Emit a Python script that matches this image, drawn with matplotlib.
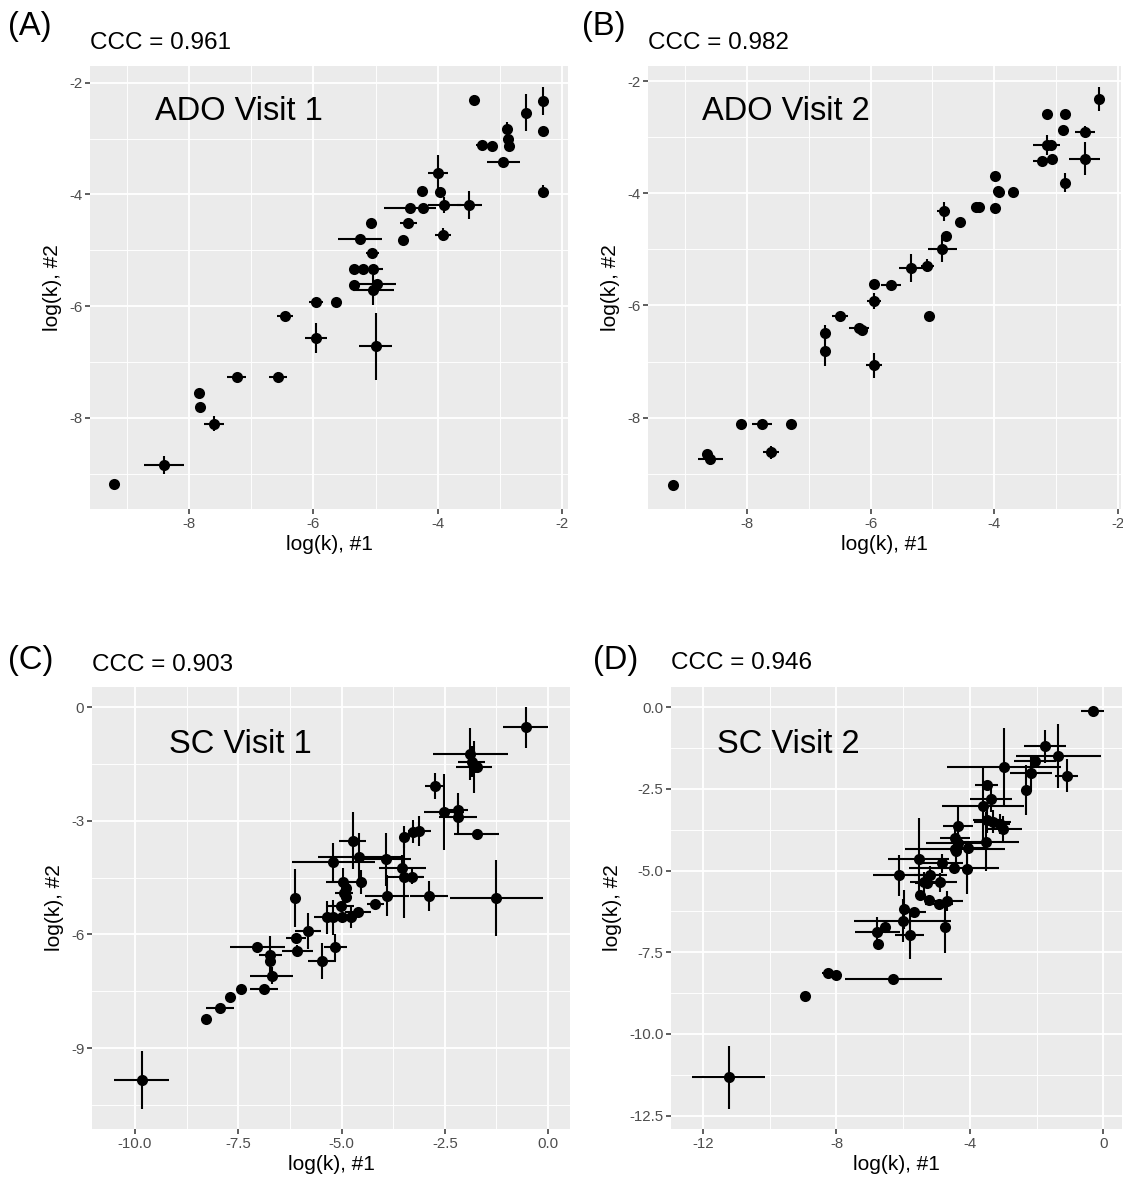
import matplotlib
matplotlib.use("Agg")
import matplotlib.pyplot as plt
from matplotlib.ticker import FixedLocator
import numpy as np

plt.rcParams['font.family'] = ['Liberation Sans', 'DejaVu Sans']

# ---- data: (x, y, xerr, yerr) ----
# ADO Visit 1
a_x = [-9.21, -8.41, -7.84, -7.82, -7.60, -7.24, -6.57, -6.46, -5.96, -5.63, -5.96, -5.00,
       -5.35, -5.35, -5.20, -5.04, -4.97, -5.04, -5.05, -5.25, -5.07, -4.55, -4.47, -4.44,
       -4.24, -4.25, -3.96, -3.99, -3.89, -3.49, -3.92, -3.42, -3.29, -3.13, -2.94, -2.89,
       -2.87, -2.85, -2.58, -2.31, -2.31, -2.31]
a_y = [-9.19, -8.85, -7.55, -7.80, -8.10, -7.27, -7.26, -6.17, -5.93, -5.92, -6.57, -6.72,
       -5.62, -5.34, -5.34, -5.34, -5.60, -5.71, -5.05, -4.79, -4.51, -4.82, -4.51, -4.25,
       -4.25, -3.94, -3.96, -3.62, -4.19, -4.19, -4.72, -2.31, -3.11, -3.13, -3.41, -2.82,
       -3.00, -3.14, -2.54, -2.32, -2.86, -3.95]
a_xerr = [0, 0.32, 0, 0, 0.16, 0.15, 0.14, 0.13, 0.11, 0, 0.17, 0.27,
          0, 0, 0, 0.16, 0.30, 0.33, 0.10, 0.35, 0, 0, 0.13, 0.42,
          0, 0, 0, 0.16, 0.27, 0.20, 0.13, 0, 0.10, 0, 0.26, 0,
          0, 0, 0, 0, 0, 0]
a_yerr = [0, 0.16, 0, 0, 0.14, 0, 0.09, 0, 0, 0, 0.27, 0.60,
          0, 0, 0, 0, 0, 0.27, 0, 0, 0, 0, 0, 0,
          0, 0, 0, 0.33, 0.15, 0.25, 0.12, 0.09, 0, 0, 0, 0.12,
          0, 0, 0.33, 0.25, 0, 0.12]

# ADO Visit 2
b_x = [-9.19, -8.64, -8.59, -8.09, -7.76, -7.29, -7.61, -6.73, -6.73, -6.49, -6.19, -6.14,
       -5.94, -5.94, -5.94, -5.67, -5.35, -5.08, -5.06, -4.84, -4.78, -4.82, -4.56, -4.29,
       -4.24, -3.98, -3.98, -3.94, -3.93, -3.70, -3.23, -3.15, -3.09, -3.06, -3.15, -2.86,
       -2.88, -2.86, -2.53, -2.54, -2.31]
b_y = [-9.20, -8.65, -8.74, -8.11, -8.11, -8.11, -8.62, -6.49, -6.81, -6.18, -6.41, -6.43,
       -7.07, -5.92, -5.61, -5.64, -5.34, -5.29, -6.18, -4.99, -4.77, -4.32, -4.52, -4.24,
       -4.25, -4.27, -3.69, -3.96, -3.98, -3.98, -3.42, -3.14, -3.14, -3.39, -2.59, -2.59,
       -2.87, -3.81, -2.90, -3.38, -2.32]
b_xerr = [0, 0, 0.20, 0, 0.16, 0, 0.13, 0, 0, 0.13, 0.16, 0,
          0.13, 0.11, 0, 0.16, 0.19, 0.11, 0, 0.23, 0, 0.11, 0, 0,
          0, 0, 0, 0, 0, 0, 0.15, 0.22, 0, 0, 0, 0,
          0, 0, 0.16, 0.25, 0]
b_yerr = [0, 0, 0.11, 0, 0, 0, 0.12, 0.15, 0.27, 0, 0, 0,
          0.22, 0.15, 0, 0, 0.25, 0.12, 0, 0.24, 0, 0.17, 0, 0,
          0, 0, 0, 0, 0, 0, 0, 0.18, 0, 0, 0, 0,
          0, 0.17, 0.10, 0.30, 0.22]

# SC Visit 1
c_x = [-9.84, -8.28, -7.94, -7.69, -7.44, -6.88, -6.69, -6.72, -6.72, -7.04, -6.13, -6.10,
       -6.07, -5.81, -5.47, -5.36, -5.20, -5.15, -5.20, -5.02, -4.98, -4.96, -4.90, -4.94,
       -4.88, -4.78, -4.73, -4.57, -4.53, -4.60, -4.18, -3.93, -3.90, -3.53, -3.49, -3.49,
       -3.29, -3.27, -3.12, -2.88, -2.73, -2.52, -2.19, -2.19, -1.73, -1.88, -1.85, -1.80,
       -1.73, -1.25, -0.54]
c_y = [-9.84, -8.24, -7.95, -7.66, -7.45, -7.45, -7.09, -6.70, -6.54, -6.32, -5.04, -6.08,
       -6.43, -5.90, -6.70, -5.55, -5.55, -6.34, -4.09, -5.25, -5.55, -4.60, -4.78, -4.91,
       -5.02, -5.55, -3.52, -3.94, -4.61, -5.41, -5.19, -4.01, -4.97, -4.25, -4.47, -3.42,
       -4.47, -3.28, -3.27, -4.98, -2.08, -2.76, -2.71, -2.90, -3.35, -1.23, -1.43, -1.57,
       -1.58, -5.04, -0.53]
c_xerr = [0.67, 0.10, 0.34, 0, 0, 0.34, 0.52, 0, 0.27, 0.67, 0, 0.24,
          0.38, 0.32, 0.34, 0.30, 0, 0.28, 1.00, 0.32, 0, 0.42, 0, 0.22,
          0, 0, 0.32, 1.00, 0, 0.32, 0.20, 0.60, 0.53, 0.57, 0.45, 0,
          0.28, 0, 0.28, 0.46, 0.24, 0.48, 0.24, 0.46, 0.54, 0.90, 0.32, 0.43,
          0, 1.13, 0.54]
c_yerr = [0.77, 0.10, 0, 0, 0, 0, 0.22, 0, 0.50, 0, 0.77, 0,
          0.15, 0.48, 0.47, 0.44, 0.46, 0.35, 0.50, 0, 0, 0.35, 0, 0.2,
          0, 0.29, 0.76, 0.62, 0.31, 0, 0.12, 0.70, 0.55, 0.35, 1.10, 0.30,
          0.20, 0.31, 0.40, 0.40, 0.35, 1.00, 0.44, 0.44, 0.15, 0.68, 0.40, 0.68,
          0, 1.00, 0.55]

# SC Visit 2
d_x = [-11.23, -8.94, -8.24, -8.02, -6.29, -6.76, -6.77, -6.54, -6.01, -5.81, -5.99, -5.69,
       -6.12, -5.54, -5.49, -5.39, -5.29, -5.24, -5.19, -4.45, -4.94, -4.91, -4.84, -4.74,
       -4.69, -4.49, -4.46, -4.41, -4.35, -4.37, -4.05, -4.08, -3.62, -3.50, -3.38, -3.50,
       -3.32, -3.52, -3.10, -3.00, -2.98, -2.32, -2.17, -2.05, -1.75, -1.35, -1.10, -0.32]
d_y = [-11.33, -8.84, -8.14, -8.19, -8.33, -7.24, -6.89, -6.74, -6.53, -6.97, -6.18, -6.28,
       -5.15, -4.64, -5.74, -5.34, -5.39, -5.90, -5.15, -4.35, -6.03, -5.36, -4.78, -6.73,
       -5.93, -4.91, -4.01, -4.39, -3.65, -4.14, -4.30, -4.95, -3.02, -2.38, -2.82, -3.45,
       -3.50, -4.11, -3.57, -3.73, -1.82, -2.53, -2.00, -1.63, -1.20, -1.49, -2.09, -0.11]
d_xerr = [1.10, 0, 0.20, 0.20, 1.44, 0, 0.67, 0, 1.45, 0.42, 0, 0.36,
          0.77, 0.90, 0, 0.40, 0.35, 0, 0.50, 1.50, 0.42, 0.52, 0.62, 0,
          0.48, 1.35, 0.45, 0, 0.45, 0.95, 0.50, 0, 1.23, 0.35, 0.63, 0.42,
          0.55, 1.00, 0.30, 0.55, 1.70, 0, 0.62, 0.64, 0.63, 1.28, 0.34, 0.35]
d_yerr = [0.97, 0, 0, 0, 0, 0, 0.46, 0, 0.66, 0.75, 0.60, 0,
          0.63, 1.25, 0, 0.30, 0, 0, 0.30, 0, 0, 0.30, 0.30, 0.80,
          0.30, 0, 0.45, 0.40, 0.60, 0.40, 0, 0.78, 1.20, 0, 0.40, 0.40,
          0.35, 0.90, 0.30, 0.40, 1.20, 0.77, 0.55, 0, 0.50, 0.98, 0.50, 0]

panels = [
    dict(x=a_x, y=a_y, xe=a_xerr, ye=a_yerr, tag="(A)", ccc="CCC = 0.961", inside="ADO Visit 1",
         box=(90, 568, 66, 509), xlim=(-9.60, -1.90), ylim=(-9.63, -1.70),
         xt=[-8, -6, -4, -2], xtl=["-8", "-6", "-4", "-2"], xm=[-9, -7, -5, -3],
         yt=[-8, -6, -4, -2], ytl=["-8", "-6", "-4", "-2"], ym=[-9, -7, -5, -3],
         tagpos=(8, 27), cccy=43, inpos=(0.136, 0.878)),
    dict(x=b_x, y=b_y, xe=b_xerr, ye=b_yerr, tag="(B)", ccc="CCC = 0.982", inside="ADO Visit 2",
         box=(648, 1121, 66, 509), xlim=(-9.60, -1.95), ylim=(-9.63, -1.73),
         xt=[-8, -6, -4, -2], xtl=["-8", "-6", "-4", "-2"], xm=[-9, -7, -5, -3],
         yt=[-8, -6, -4, -2], ytl=["-8", "-6", "-4", "-2"], ym=[-9, -7, -5, -3],
         tagpos=(582, 27), cccy=43, inpos=(0.114, 0.878)),
    dict(x=c_x, y=c_y, xe=c_xerr, ye=c_yerr, tag="(C)", ccc="CCC = 0.903", inside="SC Visit 1",
         box=(92, 570, 687, 1129), xlim=(-11.04, 0.53), ylim=(-11.14, 0.54),
         xt=[-10, -7.5, -5, -2.5, 0], xtl=["-10.0", "-7.5", "-5.0", "-2.5", "0.0"],
         xm=[-8.75, -6.25, -3.75, -1.25],
         yt=[-9, -6, -3, 0], ytl=["-9", "-6", "-3", "0"], ym=[-10.5, -7.5, -4.5, -1.5],
         tagpos=(8, 660), cccy=665, inpos=(0.161, 0.851)),
    dict(x=d_x, y=d_y, xe=d_xerr, ye=d_yerr, tag="(D)", ccc="CCC = 0.946", inside="SC Visit 2",
         box=(671, 1122, 687, 1129), xlim=(-12.96, 0.56), ylim=(-12.91, 0.62),
         xt=[-12, -8, -4, 0], xtl=["-12", "-8", "-4", "0"], xm=[-10, -6, -2],
         yt=[-12.5, -10, -7.5, -5, -2.5, 0], ytl=["-12.5", "-10.0", "-7.5", "-5.0", "-2.5", "0.0"],
         ym=[-11.25, -8.75, -6.25, -3.75, -1.25],
         tagpos=(593, 660), cccy=663, inpos=(0.102, 0.851)),
]

W, H = 1123, 1183
fig = plt.figure(figsize=(W / 100, H / 100), dpi=100)

for p in panels:
    l, r, t, b = p["box"]
    ax = fig.add_axes([l / W, 1 - b / H, (r - l) / W, (b - t) / H])
    ax.set_facecolor("#EBEBEB")
    for s in ax.spines.values():
        s.set_visible(False)
    ax.set_axisbelow(True)
    ax.set_xlim(p["xlim"])
    ax.set_ylim(p["ylim"])
    ax.set_xticks(p["xt"])
    ax.set_xticklabels(p["xtl"])
    ax.set_yticks(p["yt"])
    ax.set_yticklabels(p["ytl"])
    ax.xaxis.set_minor_locator(FixedLocator(p["xm"]))
    ax.yaxis.set_minor_locator(FixedLocator(p["ym"]))
    ax.grid(which="major", color="white", lw=1.3)
    ax.grid(which="minor", color="white", lw=0.65)
    ax.tick_params(which="major", length=3.5, width=1.1, color="#333333",
                   labelcolor="#4D4D4D", labelsize=10.8, pad=2)
    ax.tick_params(which="minor", length=0)

    ax.errorbar(p["x"], p["y"], xerr=p["xe"], yerr=p["ye"], fmt="none",
                ecolor="black", elinewidth=1.5, capsize=0, zorder=2)
    ax.scatter(p["x"], p["y"], s=64, color="black", zorder=3, linewidths=0)

    ax.set_xlabel("log(k), #1", fontsize=15, labelpad=3)
    ax.set_ylabel("log(k), #2", fontsize=15, labelpad=5)
    ax.text(p["inpos"][0], p["inpos"][1], p["inside"], transform=ax.transAxes,
            fontsize=23.5, va="baseline", ha="left")

    fig.text(p["tagpos"][0] / W, 1 - p["tagpos"][1] / H, p["tag"], fontsize=23.5,
             ha="left", va="center")
    fig.text(l / W, 1 - p["cccy"] / H, p["ccc"], fontsize=17.5, ha="left", va="center")

fig.savefig("out.png", dpi=100)
